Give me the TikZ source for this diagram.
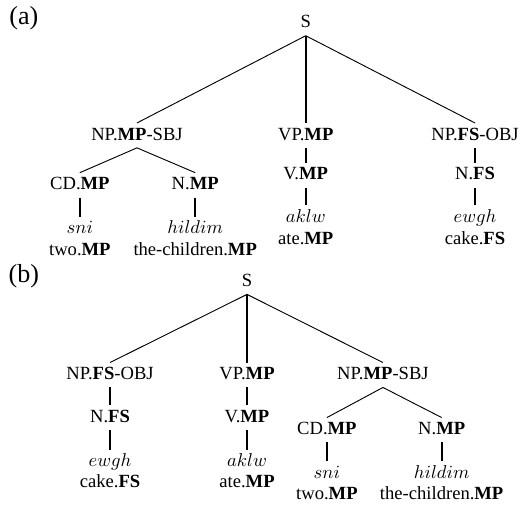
\documentclass[tikz,border=0pt]{standalone}
\usepackage{fontspec}
\setmainfont{Liberation Serif}
\newcommand{\bMP}{\textbf{MP}}
\newcommand{\bFS}{\textbf{FS}}
\tikzset{
  lbl/.style={inner sep=2pt, text height=7pt, text depth=2pt},
  panel/.style={inner sep=0pt, font=\fontsize{14}{16}\selectfont},
  branch/.style={line width=0.5pt},
  unary/.style={line width=1.1pt}
}
\begin{document}
\begin{tikzpicture}[every node/.style={lbl}]
  \useasboundingbox (0,0) rectangle (9.85,9.53);
  % (a): subject first
  \node[panel] (lblA) at (0.45,9.15) {(a)};
  \node (sA)     at (5.78,9.09) {S};
  \node (npsA)   at (2.59,6.97) {NP.\bMP-SBJ};
  \node (vpA)    at (5.78,6.97) {VP.\bMP};
  \node (npoA)   at (8.98,6.97) {NP.\bFS-OBJ};
  \node (cdA)    at (1.51,6.03) {CD.\bMP};
  \node (nmA)    at (3.69,6.03) {N.\bMP};
  \node (vA)     at (5.78,6.22) {V.\bMP};
  \node (nfA)    at (8.98,6.22) {N.\bFS};
  \node (sniA)   at (1.51,5.20) {$sni$};
  \node (hildA)  at (3.69,5.20) {$hildim$};
  \node (aklwA)  at (5.78,5.42) {$aklw$};
  \node (ewghA)  at (8.98,5.42) {$ewgh$};
  \node (twoA)   at (1.51,4.78) {two.\bMP};
  \node (chA)    at (3.69,4.78) {the-children.\bMP};
  \node (ateA)   at (5.78,4.99) {ate.\bMP};
  \node (cakeA)  at (8.98,4.99) {cake.\bFS};
  \draw[branch] (sA.south) -- (npsA.north);
  \draw[branch] (sA.south) -- (npoA.north);
  \draw[unary]  (sA.south) -- (vpA.north);
  \draw[branch] (npsA.south) -- (cdA.north);
  \draw[branch] (npsA.south) -- (nmA.north);
  \draw[unary]  (cdA) -- (sniA);
  \draw[unary]  (nmA) -- (hildA);
  \draw[unary]  (vpA) -- (vA);
  \draw[unary]  (vA) -- (aklwA);
  \draw[unary]  (npoA) -- (nfA);
  \draw[unary]  (nfA) -- (ewghA);
  % (b): object first
  \node[panel] (lblB) at (0.45,4.27) {(b)};
  \node (sB)     at (4.67,4.20) {S};
  \node (npoB)   at (2.08,2.44) {NP.\bFS-OBJ};
  \node (vpB)    at (4.67,2.44) {VP.\bMP};
  \node (npsB)   at (7.24,2.44) {NP.\bMP-SBJ};
  \node (nfB)    at (2.08,1.63) {N.\bFS};
  \node (vB)     at (4.67,1.63) {V.\bMP};
  \node (cdB)    at (6.18,1.40) {CD.\bMP};
  \node (nmB)    at (8.35,1.40) {N.\bMP};
  \node (ewghB)  at (2.08,0.79) {$ewgh$};
  \node (aklwB)  at (4.67,0.79) {$aklw$};
  \node (sniB)   at (6.18,0.57) {$sni$};
  \node (hildB)  at (8.35,0.57) {$hildim$};
  \node (cakeB)  at (2.08,0.40) {cake.\bFS};
  \node (ateB)   at (4.67,0.40) {ate.\bMP};
  \node (twoB)   at (6.18,0.17) {two.\bMP};
  \node (chB)    at (8.35,0.17) {the-children.\bMP};
  \draw[branch] (sB.south) -- (npoB.north);
  \draw[branch] (sB.south) -- (npsB.north);
  \draw[unary]  (sB.south) -- (vpB.north);
  \draw[unary]  (npoB) -- (nfB);
  \draw[unary]  (nfB) -- (ewghB);
  \draw[unary]  (vpB) -- (vB);
  \draw[unary]  (vB) -- (aklwB);
  \draw[branch] (npsB.south) -- (cdB.north);
  \draw[branch] (npsB.south) -- (nmB.north);
  \draw[unary]  (cdB) -- (sniB);
  \draw[unary]  (nmB) -- (hildB);
\end{tikzpicture}
\end{document}
